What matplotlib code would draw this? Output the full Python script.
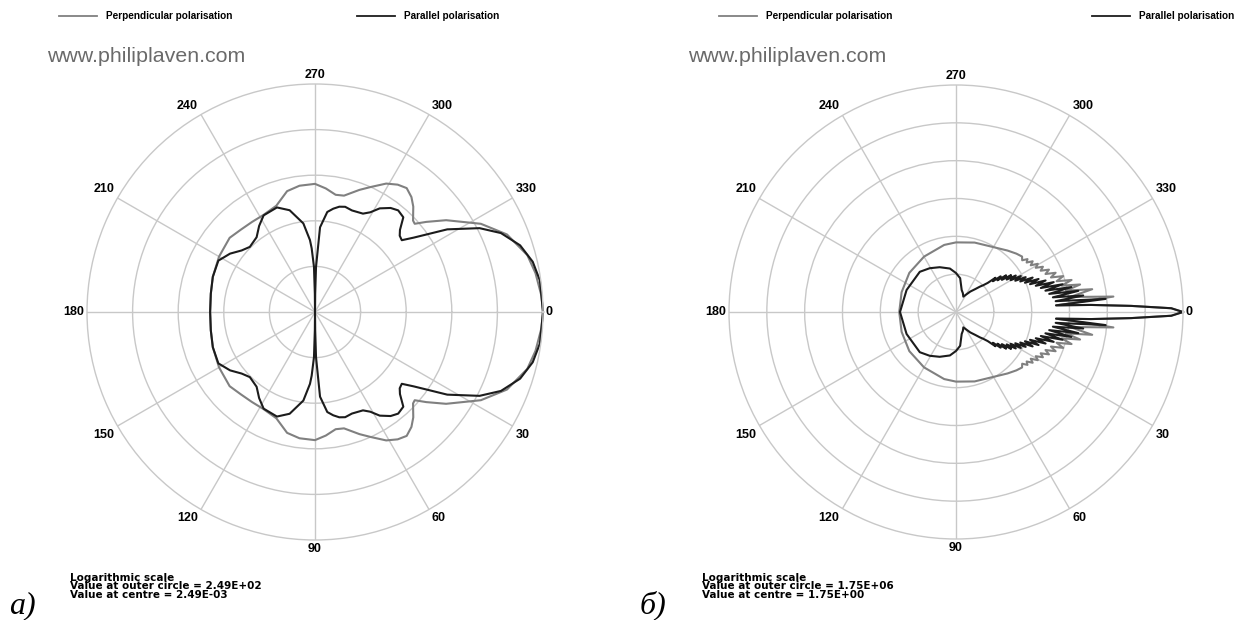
import numpy as np
import matplotlib
matplotlib.use("Agg")
import matplotlib.pyplot as plt

W, H = 1247, 620

# Scattering angle (deg, 0..180) and radius in decades above the centre value.
# The diagrams are symmetric, so the 180..360 half is the mirror image.

# a) small sphere: 5 decades from 2.49E-03 to 2.49E+02
a_perp_ang = [0, 4, 10, 15, 22, 28, 35, 39, 41.5, 43, 47, 50, 53.5, 57, 61, 66,
              70, 76, 80, 85, 90, 97, 103, 110, 118, 125, 132, 139, 150, 161, 170, 180]
a_perp_log = [5.00, 4.98, 4.91, 4.82, 4.54, 4.12, 3.51, 3.14, 2.92, 2.94, 3.16, 3.29,
              3.38, 3.33, 3.22, 3.00, 2.85, 2.63, 2.61, 2.72, 2.81, 2.79, 2.72, 2.48,
              2.41, 2.41, 2.43, 2.48, 2.43, 2.37, 2.32, 2.30]

a_par_ang = [0, 8, 13, 18, 23, 27, 32, 37, 39.6, 42, 44, 47, 50.7, 54, 58, 61, 64,
             70, 74, 77, 80, 83, 86.6, 88.7, 89.5, 90, 90.5, 91.3, 93, 94, 97.5, 104,
             110, 118, 123, 128, 135, 140, 145.5, 152, 161, 170, 180]
a_par_log = [5.00, 4.98, 4.90, 4.73, 4.43, 4.05, 3.42, 2.71, 2.47, 2.50, 2.59, 2.84,
             2.88, 2.82, 2.68, 2.50, 2.40, 2.37, 2.40, 2.37, 2.30, 2.21, 1.86, 0.99,
             0.40, 0.00, 0.40, 0.99, 1.40, 1.58, 1.96, 2.30, 2.44, 2.40, 2.25, 2.08,
             2.02, 2.10, 2.26, 2.40, 2.37, 2.32, 2.30]

# b) large sphere: 6 decades from 1.75E+00 to 1.75E+06
b_perp_ang = [0, 1, 2, 3, 3.8, 4.5, 5.6, 7.5, 9.5, 11, 12.5, 14, 15.5, 17, 18.5, 20,
              21.5, 23, 24.5, 26, 27.5, 29, 30.5, 32, 33.5, 35, 36.5, 38, 40, 44,
              50, 60, 75, 90, 100, 120, 140, 160, 180]
b_perp_log = [6.00, 5.69, 4.63, 3.57, 2.65, 3.17, 4.18, 3.04, 3.65, 2.96, 3.36, 2.88,
              3.17, 2.78, 2.99, 2.67, 2.83, 2.57, 2.70, 2.49, 2.59, 2.41, 2.51, 2.33,
              2.43, 2.28, 2.35, 2.22, 2.28, 2.22, 2.12, 1.98, 1.90, 1.84, 1.80, 1.69,
              1.61, 1.53, 1.50]

b_par_ang = [0, 1, 2, 3, 3.8, 5.0, 6.2, 7.4, 8.6, 9.8, 11.0, 12.2, 13.4, 14.6, 15.8,
             17.0, 18.2, 19.4, 20.6, 21.8, 23.0, 24.2, 25.4, 26.6, 27.8, 29.0, 30.2,
             31.4, 32.6, 33.8, 35.0, 36.2, 37.4, 38.6, 39.8, 41.0, 42.5, 44.7, 46.5,
             50, 55, 60, 64.5, 70, 75.5, 83, 90, 98, 110, 121, 132, 156, 180]
b_par_log = [6.00, 5.69, 4.63, 3.57, 2.65, 3.97, 2.65, 3.39, 2.59, 3.28, 2.51, 3.12,
             2.43, 2.91, 2.33, 2.70, 2.22, 2.51, 2.09, 2.35, 1.98, 2.22, 1.88, 2.06,
             1.77, 1.96, 1.67, 1.85, 1.59, 1.75, 1.48, 1.64, 1.38, 1.51, 1.27, 1.38,
             1.14, 1.00, 0.93, 0.79, 0.66, 0.53, 0.45, 0.53, 0.60, 0.90, 1.03, 1.16,
             1.26, 1.35, 1.43, 1.43, 1.48]

PERP_COLOR = "#808080"
PAR_COLOR = "#1c1c1c"
GRID_COLOR = "#c8c8c8"
SANS = ["Liberation Sans", "DejaVu Sans"]
WIDE = ["DejaVu Sans"]


def px(x, y):
    return x / W, 1 - y / H


def full_circle(ang, val):
    ang = np.asarray(ang, float)
    val = np.asarray(val, float)
    theta = np.concatenate([ang, 360 - ang[::-1]])
    r = np.concatenate([val, val[::-1]])
    return np.deg2rad(theta), r


def draw_panel(fig, cx, cy, rad, rmax, perp, par):
    left, bottom = px(cx - rad, cy + rad)
    ax = fig.add_axes([left, bottom, 2 * rad / W, 2 * rad / H], projection="polar")
    ax.set_theta_zero_location("E")
    ax.set_theta_direction(-1)
    ax.set_rlim(0, rmax)
    ax.set_rticks(range(1, rmax))
    ax.set_yticklabels([])
    ax.set_thetagrids(range(0, 360, 30), labels=[])
    ax.tick_params(length=0)
    ax.grid(True, color=GRID_COLOR, lw=1.0)
    ax.spines["polar"].set_color(GRID_COLOR)
    ax.spines["polar"].set_linewidth(1.0)

    t, r = full_circle(*perp)
    ax.plot(t, r, color=PERP_COLOR, lw=1.5, clip_on=False)
    t, r = full_circle(*par)
    ax.plot(t, r, color=PAR_COLOR, lw=1.5, clip_on=False)

    for deg in range(0, 360, 30):
        t = np.deg2rad(deg)
        c, s = round(np.cos(t), 2), round(np.sin(t), 2)
        ha = "left" if c > 0.1 else "right" if c < -0.1 else "center"
        va = "top" if s > 0.1 else "bottom" if s < -0.1 else "center"
        ax.annotate(str(deg), xy=(t, rmax),
                    xytext=(3 * np.sign(c) if abs(c) > 0.1 else 0,
                            -3 * np.sign(s) if abs(s) > 0.1 else 0),
                    textcoords="offset pixels", ha=ha, va=va,
                    fontsize=9, fontweight="bold", family=SANS,
                    annotation_clip=False)
    return ax


def legend_row(fig, perp_x, par_x, y):
    for x0, color, label in [(perp_x, PERP_COLOR, "Perpendicular polarisation"),
                             (par_x, PAR_COLOR, "Parallel polarisation")]:
        x1, y1 = px(x0, y)
        x2, _ = px(x0 + 38, y)
        fig.add_artist(plt.Line2D([x1, x2], [y1, y1], color=color, lw=1.3))
        tx, ty = px(x0 + 47, y)
        fig.text(tx, ty, label, fontsize=7.2, fontweight="bold", family=SANS,
                 ha="left", va="center")


def footer(fig, x, tag_x, outer, centre, tag):
    lines = ["Logarithmic scale",
             f"Value at outer circle = {outer}",
             f"Value at centre = {centre}"]
    for i, line in enumerate(lines):
        tx, ty = px(x, 578 + 8.4 * i)
        fig.text(tx, ty, line, fontsize=7.5, fontweight="bold", family=WIDE,
                 ha="left", va="center")
    tx, ty = px(tag_x, 613)
    fig.text(tx, ty, tag, fontsize=23, style="italic",
             family=["Liberation Serif", "DejaVu Serif"], ha="left", va="baseline")


fig = plt.figure(figsize=(W / 100, H / 100), dpi=100)
fig.patch.set_facecolor("white")

draw_panel(fig, 315, 312, 228, 5, (a_perp_ang, a_perp_log), (a_par_ang, a_par_log))
draw_panel(fig, 956, 312, 227, 6, (b_perp_ang, b_perp_log), (b_par_ang, b_par_log))

legend_row(fig, 59, 357, 16)
legend_row(fig, 719, 1092, 16)

for x in (47, 688):
    tx, ty = px(x, 56)
    fig.text(tx, ty, "www.philiplaven.com", fontsize=15.4, color="#6a6a6a",
             family=SANS, ha="left", va="center")

footer(fig, 70, 9, "2.49E+02", "2.49E-03", "a)")
footer(fig, 702, 640, "1.75E+06", "1.75E+00", "б)")

fig.savefig("out.png", dpi=100, facecolor="white")
